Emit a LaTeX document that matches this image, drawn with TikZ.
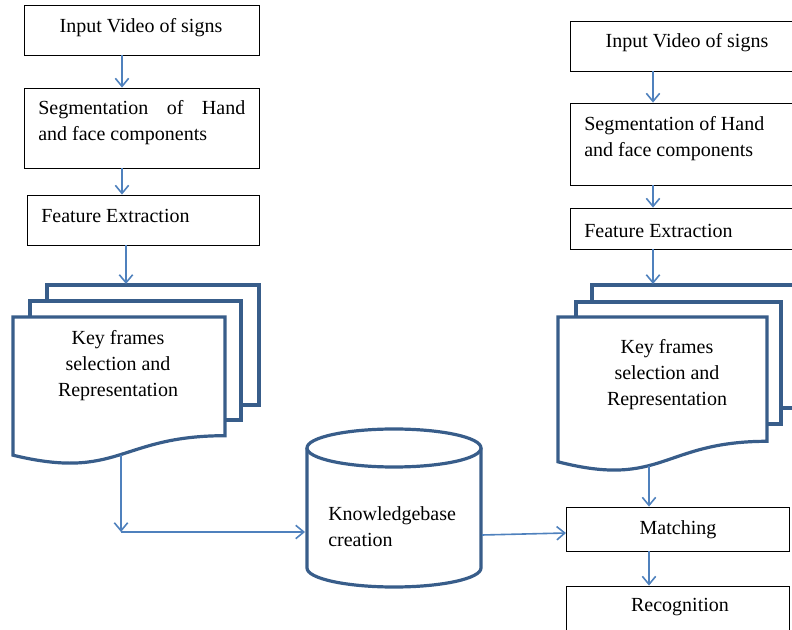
\documentclass[tikz,border=0pt]{standalone}
\usepackage{fontspec}
\setmainfont{Liberation Serif}
\usetikzlibrary{arrows.meta,fit}
\definecolor{docblue}{RGB}{56,93,138}
\definecolor{arrblue}{RGB}{79,129,189}
\begin{document}
\begin{tikzpicture}[x=0.75pt,y=-0.75pt,
  box/.style={draw=black, line width=0.6pt, fill=white, inner sep=0pt},
  doc/.style={draw=docblue, line width=2.4pt, fill=white, line join=miter},
  arr/.style={draw=arrblue, line width=1.2pt, -{Straight Barb[length=6pt,width=10pt]}},
  lbl/.style={inner sep=0pt, font=\fontsize{15}{19.5}\selectfont},
]
\useasboundingbox (0,0) rectangle (792,630);
\clip (0,0) rectangle (792,630);

% ---------- left column boxes ----------
\node[box, fit={(24,5)(259,55)}] (in1) {};
\node[box, fit={(24,88)(259,168)}] (seg1) {};
\node[box, fit={(27,195)(259,245)}] (fe1) {};

\node[lbl] (in1t) at (141,27.5) {Input Video of signs};
\node[lbl, anchor=west, align=left] (seg1t) at (38,122.5) {\makebox[155.25pt][s]{Segmentation of Hand}\\and face components};
\node[lbl, anchor=west] (fe1t) at (41,215.5) {Feature Extraction};

% ---------- left multi-document ----------
\draw[doc] (47,285) rectangle (259,405);
\draw[doc] (30,301) rectangle (241,420);
\draw[doc] (13,317) -- (225,317) -- (225,435.7) .. controls (119,435.7) and (119,480.9) .. (13,455.2) -- cycle;
\node[lbl, align=center] (kf1) at (118,365.5) {Key frames\\selection and\\Representation};

% ---------- right column boxes ----------
\node[box, fit={(570,21)(800,71)}] (in2) {};
\node[box, fit={(570,103)(800,185)}] (seg2) {};
\node[box, fit={(570,208)(800,249)}] (fe2) {};
\node[box, fit={(566,507)(789,551)}] (match) {};
\node[box, fit={(566,586)(789,640)}] (rec) {};

\node[lbl] (in2t) at (687,42.5) {Input Video of signs};
\node[lbl, anchor=west, align=left] (seg2t) at (584,138.5) {Segmentation of Hand\\and face components};
\node[lbl, anchor=west] (fe2t) at (584,230.5) {Feature Extraction};
\node[lbl] (matcht) at (678,529.5) {Matching};
\node[lbl] (rect) at (680,607.5) {Recognition};

% ---------- right multi-document ----------
\draw[doc] (592,285) rectangle (797,408);
\draw[doc] (576,302) rectangle (781,424);
\draw[doc] (558,317) -- (767,317) -- (767,441.3) .. controls (662.5,441.3) and (662.5,488.7) .. (558,461.8) -- cycle;
\node[lbl, align=center] (kf2) at (667,374.5) {Key frames\\selection and\\Representation};

% ---------- knowledge base cylinder ----------
\path[fill=white] (307,448) -- (307,568) arc[start angle=180,end angle=360,x radius=65.25pt,y radius=14.25pt] -- (481,448) -- cycle;
\draw[doc, fill=none] (307,448) -- (307,568) arc[start angle=180,end angle=360,x radius=65.25pt,y radius=14.25pt] -- (481,448);
\draw[doc] (394,448) ellipse [x radius=65.25pt, y radius=14.25pt];
\node[lbl, anchor=west, align=left] (kb) at (328,526.5) {Knowledgebase\\creation};

% ---------- named connector points ----------
\coordinate (LX) at (122,0);
\coordinate (LX2) at (126,0);
\coordinate (RX) at (653,0);
\coordinate (d1t) at (126,284);
\coordinate (d2t) at (653,284);
\coordinate (d1b) at (121,455);
\coordinate (c1) at (121,532);
\coordinate (kbL) at (305,532);
\coordinate (kbR) at (482,535);
\coordinate (mIn) at (566,533);
\coordinate (d2b) at (649,466);

% ---------- connectors ----------
\draw[arr] (in1.south -| LX) -- (seg1.north -| LX);
\draw[arr] (seg1.south -| LX) -- (fe1.north -| LX);
\draw[arr] (fe1.south -| LX2) -- (d1t);
\draw[arr] (in2.south -| RX) -- (seg2.north -| RX);
\draw[arr] (seg2.south -| RX) -- (fe2.north -| RX);
\draw[arr] (fe2.south -| RX) -- (d2t);
\draw[arr] (d1b) -- (c1);
\draw[arr] (c1) -- (kbL);
\draw[arr] (kbR) -- (mIn);
\draw[arr] (d2b) -- (match.north -| d2b);
\draw[arr] (match.south -| d2b) -- (rec.north -| d2b);
\end{tikzpicture}
\end{document}
